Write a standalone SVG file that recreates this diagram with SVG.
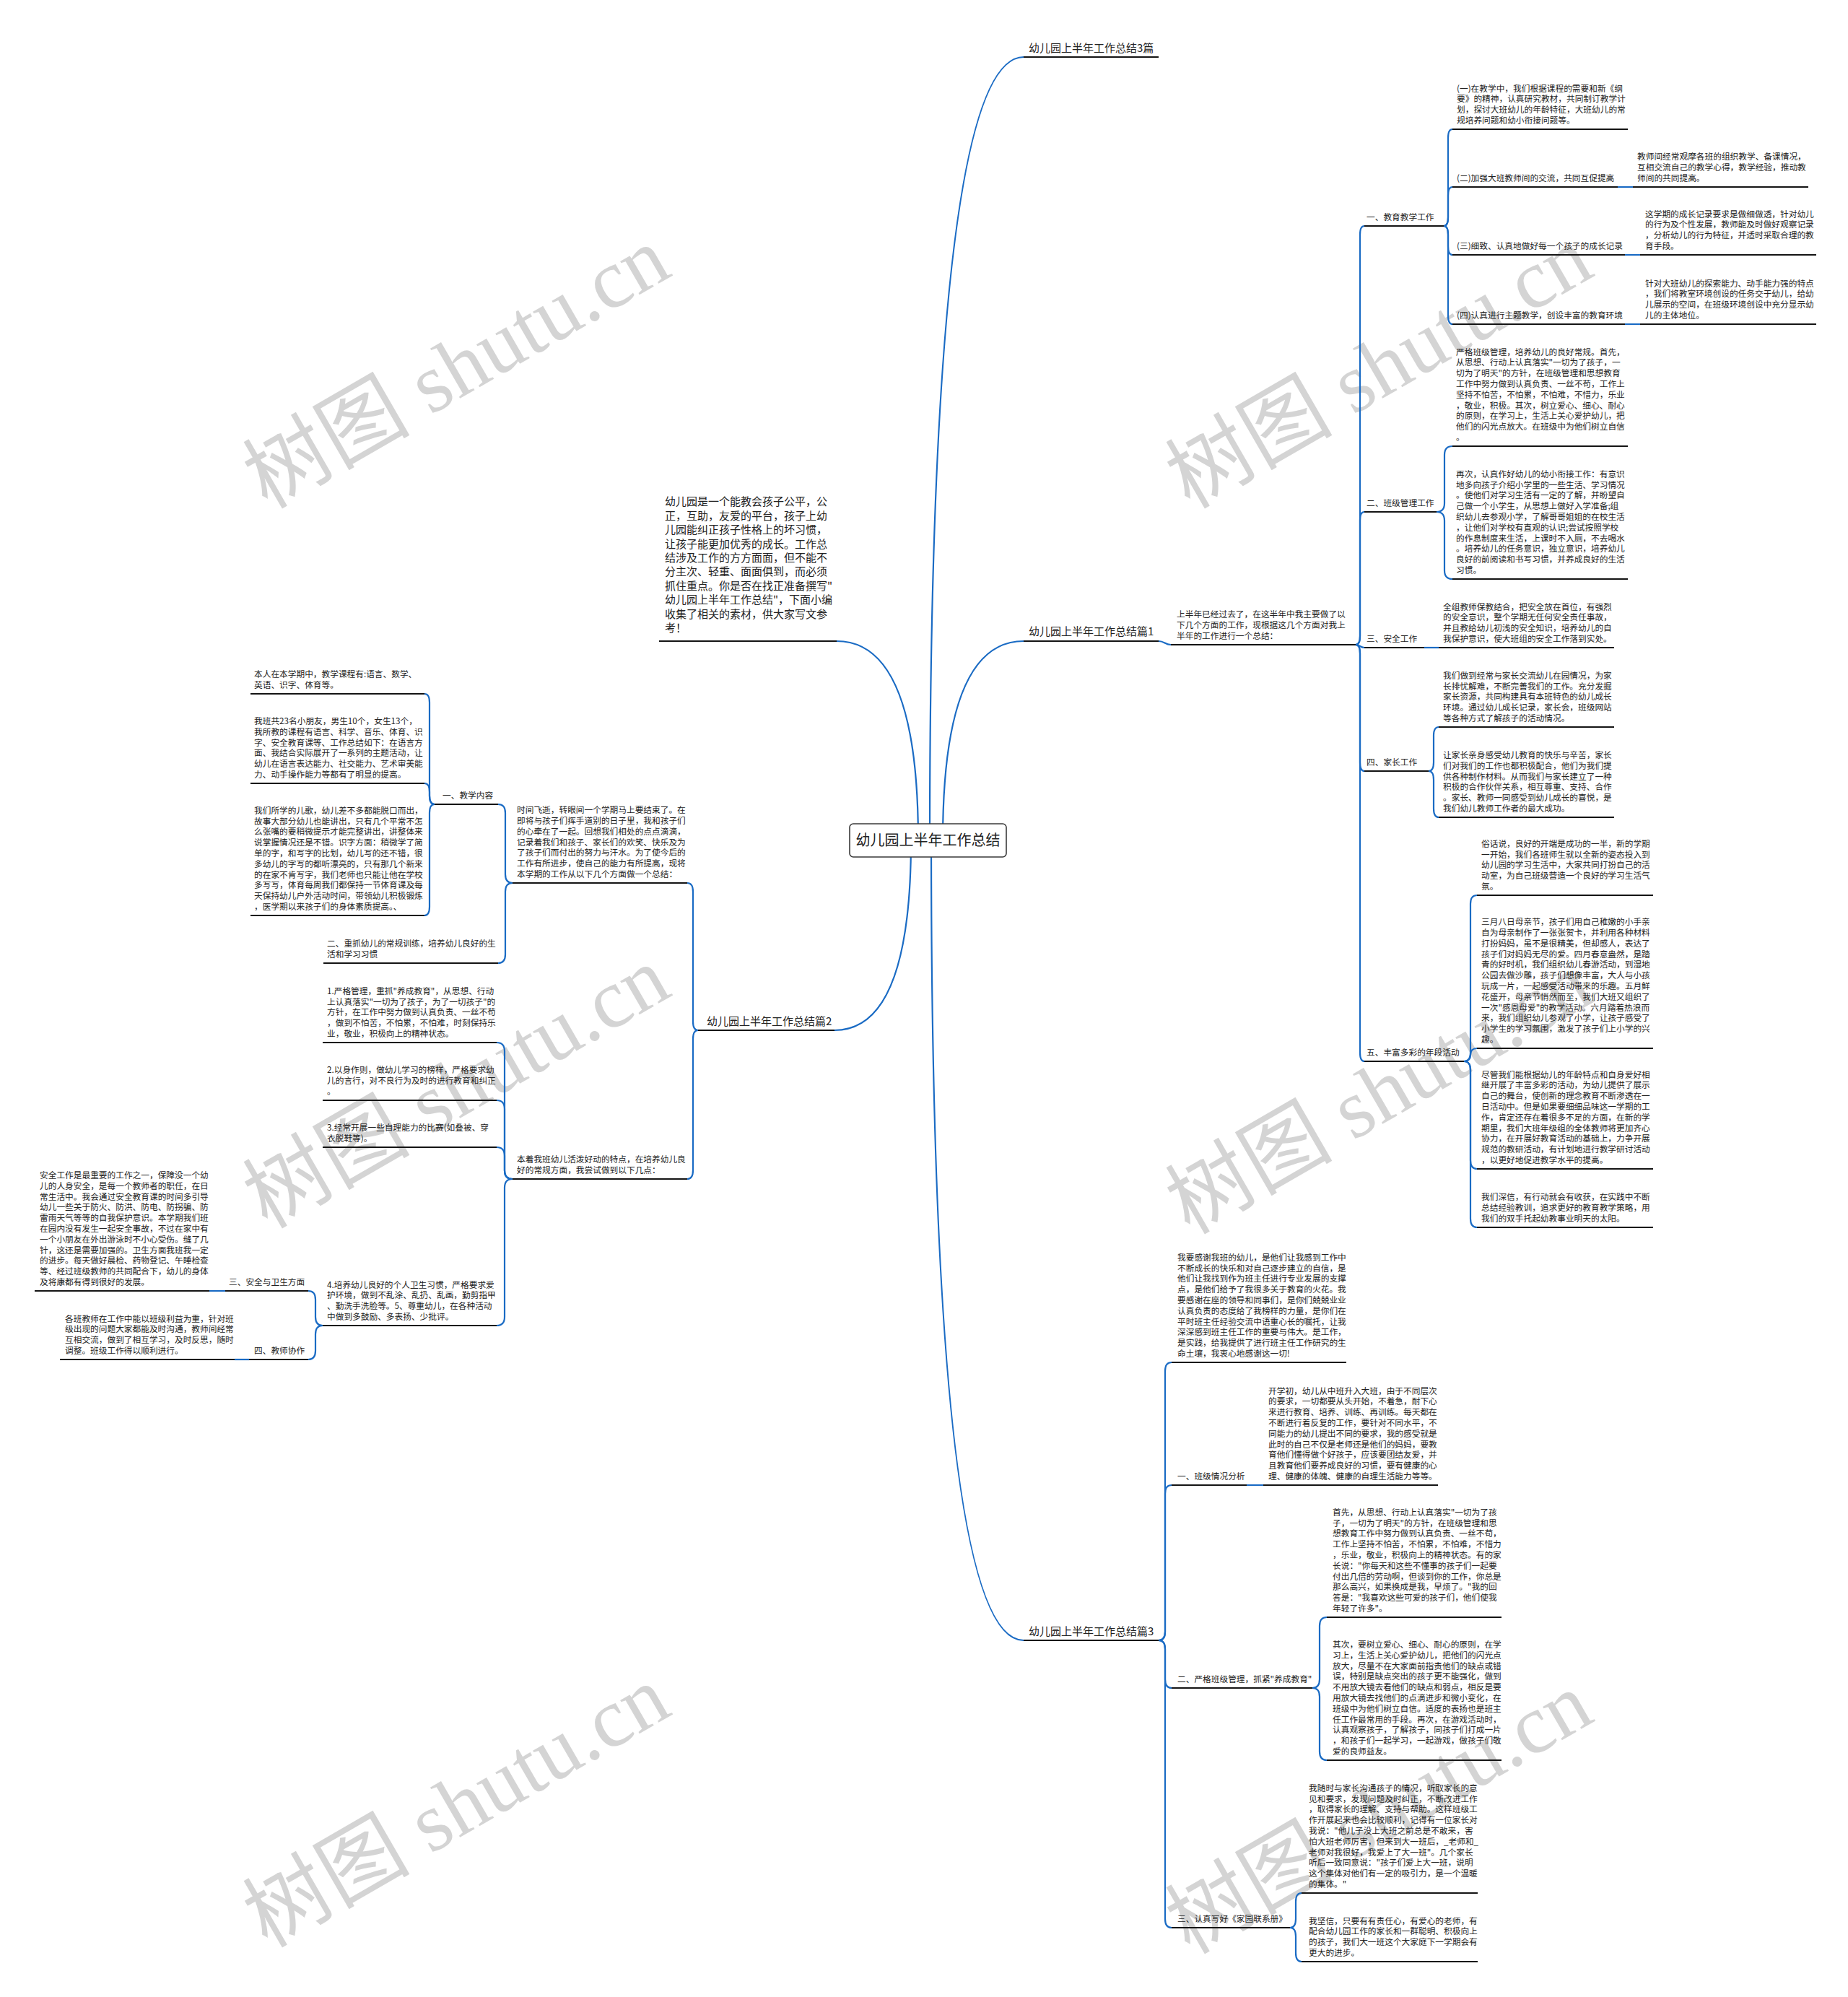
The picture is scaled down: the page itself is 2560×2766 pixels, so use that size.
<svg xmlns="http://www.w3.org/2000/svg" width="2560" height="2766" viewBox="0 0 2560 2766">
<style>
.t{font-family:"Noto Sans CJK SC","Noto Sans",sans-serif;font-size:11.7px;fill:#222}
.m{font-size:15px}
.ul{stroke:#141414;stroke-width:2;fill:none}
.c{fill:none;stroke:#1a6bc4;stroke-width:2.2}
.wm{font-family:"Liberation Serif","Noto Sans CJK SC",serif;font-size:116px;fill:#d4d4d4}
</style>
<rect width="2560" height="2766" fill="#ffffff"/>
<g id="watermarks">
<text class="wm" x="370" y="706" transform="rotate(-30 370 706)">树图 shutu.cn</text>
<text class="wm" x="1648" y="706" transform="rotate(-30 1648 706)">树图 shutu.cn</text>
<text class="wm" x="370" y="1703" transform="rotate(-30 370 1703)">树图 shutu.cn</text>
<text class="wm" x="1648" y="1711" transform="rotate(-30 1648 1711)">树图 shutu.cn</text>
<text class="wm" x="370" y="2699" transform="rotate(-30 370 2699)">树图 shutu.cn</text>
<text class="wm" x="1648" y="2708" transform="rotate(-30 1648 2708)">树图 shutu.cn</text>
</g>
<g id="connectors">
<path class="c" d="M1288,1164 Q1288,79 1418,79"/>
<path class="c" d="M1306,1164 Q1306,888 1418,888"/>
<path class="c" d="M1272,1164 Q1272,888 1159,888"/>
<path class="c" d="M1262,1164 Q1262,1427 1156,1427"/>
<path class="c" d="M1290,1164 Q1290,2272 1418,2272"/>
<path class="c" d="M1605,888 C1613,888 1614,893 1622,893"/>
<path class="c" d="M1878,893 Q1884,893 1884,881 L1884,325 Q1884,313 1890,313"/>
<path class="c" d="M1878,893 Q1884,893 1884,881 L1884,721 Q1884,709 1890,709"/>
<path class="c" d="M1878,893 C1884,893 1884,897 1890,897"/>
<path class="c" d="M1878,893 Q1884,893 1884,905 L1884,1056 Q1884,1068 1890,1068"/>
<path class="c" d="M1878,893 Q1884,893 1884,905 L1884,1458 Q1884,1470 1890,1470"/>
<path class="c" d="M2000,313 Q2006,313 2006,301 L2006,191 Q2006,179 2012,179"/>
<path class="c" d="M2000,313 Q2006,313 2006,301 L2006,271 Q2006,259 2012,259"/>
<path class="c" d="M2000,313 Q2006,313 2006,325 L2006,341 Q2006,353 2012,353"/>
<path class="c" d="M2000,313 Q2006,313 2006,325 L2006,437 Q2006,449 2012,449"/>
<path class="c" d="M2241,259 L2262,259"/>
<path class="c" d="M2251,353 L2272,353"/>
<path class="c" d="M2251,449 L2272,449"/>
<path class="c" d="M1990,709 Q2001,709 2001,697 L2001,630 Q2001,618 2012,618"/>
<path class="c" d="M1990,709 Q2001,709 2001,721 L2001,790 Q2001,802 2012,802"/>
<path class="c" d="M1973,897 L1993,897"/>
<path class="c" d="M1979,1068 Q1986,1068 1986,1056 L1986,1019 Q1986,1007 1993,1007"/>
<path class="c" d="M1979,1068 Q1986,1068 1986,1080 L1986,1120 Q1986,1132 1993,1132"/>
<path class="c" d="M2028,1470 Q2037,1470 2037,1458 L2037,1252 Q2037,1240 2046,1240"/>
<path class="c" d="M2028,1470 Q2037,1470 2037,1461 Q2037,1452 2046,1452"/>
<path class="c" d="M2028,1470 Q2037,1470 2037,1482 L2037,1607 Q2037,1619 2046,1619"/>
<path class="c" d="M2028,1470 Q2037,1470 2037,1482 L2037,1688 Q2037,1700 2046,1700"/>
<path class="c" d="M967,1427 Q960,1427 960,1415 L960,1235 Q960,1223 952,1223"/>
<path class="c" d="M967,1427 Q960,1427 960,1439 L960,1621 Q960,1633 952,1633"/>
<path class="c" d="M710,1223 Q700,1223 700,1211 L700,1126 Q700,1114 690,1114"/>
<path class="c" d="M710,1223 Q700,1223 700,1235 L700,1322 Q700,1334 690,1334"/>
<path class="c" d="M602,1114 Q595,1114 595,1102 L595,973 Q595,961 588,961"/>
<path class="c" d="M602,1114 Q595,1114 595,1102 L595,1097 Q595,1085 588,1085"/>
<path class="c" d="M602,1114 Q595,1114 595,1126 L595,1256 Q595,1268 588,1268"/>
<path class="c" d="M710,1633 Q699,1633 699,1621 L699,1456 Q699,1444 688,1444"/>
<path class="c" d="M710,1633 Q699,1633 699,1621 L699,1536 Q699,1524 688,1524"/>
<path class="c" d="M710,1633 Q699,1633 699,1621 L699,1601 Q699,1589 688,1589"/>
<path class="c" d="M710,1633 Q699,1633 699,1645 L699,1824 Q699,1836 688,1836"/>
<path class="c" d="M447,1836 Q437,1836 437,1824 L437,1800 Q437,1788 427,1788"/>
<path class="c" d="M447,1836 Q437,1836 437,1848 L437,1871 Q437,1883 427,1883"/>
<path class="c" d="M312,1788 L290,1788"/>
<path class="c" d="M345,1883 L325,1883"/>
<path class="c" d="M1605,2272 Q1614,2272 1614,2260 L1614,1899 Q1614,1887 1623,1887"/>
<path class="c" d="M1605,2272 Q1614,2272 1614,2260 L1614,2069 Q1614,2057 1623,2057"/>
<path class="c" d="M1605,2272 Q1614,2272 1614,2284 L1614,2326 Q1614,2338 1623,2338"/>
<path class="c" d="M1605,2272 Q1614,2272 1614,2284 L1614,2658 Q1614,2670 1623,2670"/>
<path class="c" d="M1727,2057 L1750,2057"/>
<path class="c" d="M1818,2338 Q1828,2338 1828,2326 L1828,2252 Q1828,2240 1838,2240"/>
<path class="c" d="M1818,2338 Q1828,2338 1828,2350 L1828,2426 Q1828,2438 1838,2438"/>
<path class="c" d="M1787,2670 Q1795,2670 1795,2658 L1795,2634 Q1795,2622 1803,2622"/>
<path class="c" d="M1787,2670 Q1795,2670 1795,2682 L1795,2705 Q1795,2717 1803,2717"/>
</g>
<g id="root">
<rect x="1177" y="1141" width="217" height="46" rx="5" fill="#ffffff" stroke="#3a3a3a" stroke-width="1.6"/>
<text class="t" x="1285.5" y="1171" text-anchor="middle" style="font-size:20px">幼儿园上半年工作总结</text>
</g>
<g id="n-3pian">
<text class="t m" x="1425" y="72">幼儿园上半年工作总结3篇</text>
<line class="ul" x1="1418" y1="79" x2="1605" y2="79"/>
</g>
<g id="n-intro">
<text class="t m" x="921" y="700.4"><tspan x="921">幼儿园是一个能教会孩子公平，公</tspan><tspan x="921" dy="19.4">正，互助，友爱的平台，孩子上幼</tspan><tspan x="921" dy="19.4">儿园能纠正孩子性格上的坏习惯，</tspan><tspan x="921" dy="19.4">让孩子能更加优秀的成长。工作总</tspan><tspan x="921" dy="19.4">结涉及工作的方方面面，但不能不</tspan><tspan x="921" dy="19.4">分主次、轻重、面面俱到，而必须</tspan><tspan x="921" dy="19.4">抓住重点。你是否在找正准备撰写"</tspan><tspan x="921" dy="19.4">幼儿园上半年工作总结"，下面小编</tspan><tspan x="921" dy="19.4">收集了相关的素材，供大家写文参</tspan><tspan x="921" dy="19.4">考！</tspan></text>
<line class="ul" x1="913" y1="888" x2="1159" y2="888"/>
</g>
<g id="n-pian1">
<text class="t m" x="1425" y="880">幼儿园上半年工作总结篇1</text>
<line class="ul" x1="1418" y1="888" x2="1605" y2="888"/>
</g>
<g id="n-p1">
<text class="t" x="1630" y="855.4"><tspan x="1630">上半年已经过去了，在这半年中我主要做了以</tspan><tspan x="1630" dy="14.8">下几个方面的工作，现根据这几个方面对我上</tspan><tspan x="1630" dy="14.8">半年的工作进行一个总结：</tspan></text>
<line class="ul" x1="1622" y1="893" x2="1878" y2="893"/>
</g>
<g id="n-r1">
<text class="t" x="1893" y="305">一、教育教学工作</text>
<line class="ul" x1="1890" y1="313" x2="2000" y2="313"/>
</g>
<g id="n-r1a">
<text class="t" x="2018" y="126.6"><tspan x="2018">(一)在教学中，我们根据课程的需要和新《纲</tspan><tspan x="2018" dy="14.8">要》的精神，认真研究教材，共同制订教学计</tspan><tspan x="2018" dy="14.8">划，探讨大班幼儿的年龄特征，大班幼儿的常</tspan><tspan x="2018" dy="14.8">规培养问题和幼小衔接问题等。</tspan></text>
<line class="ul" x1="2012" y1="179" x2="2255" y2="179"/>
</g>
<g id="n-r1b">
<text class="t" x="2018" y="251">(二)加强大班教师间的交流，共同互促提高</text>
<line class="ul" x1="2012" y1="259" x2="2241" y2="259"/>
</g>
<g id="n-r1b1">
<text class="t" x="2268" y="221.4"><tspan x="2268">教师间经常观摩各班的组织教学、备课情况，</tspan><tspan x="2268" dy="14.8">互相交流自己的教学心得，教学经验，推动教</tspan><tspan x="2268" dy="14.8">师间的共同提高。</tspan></text>
<line class="ul" x1="2262" y1="259" x2="2505" y2="259"/>
</g>
<g id="n-r1c">
<text class="t" x="2018" y="345">(三)细致、认真地做好每一个孩子的成长记录</text>
<line class="ul" x1="2012" y1="353" x2="2251" y2="353"/>
</g>
<g id="n-r1c1">
<text class="t" x="2279" y="300.6"><tspan x="2279">这学期的成长记录要求是做细做透，针对幼儿</tspan><tspan x="2279" dy="14.8">的行为及个性发展，教师能及时做好观察记录</tspan><tspan x="2279" dy="14.8">，分析幼儿的行为特征，并适时采取合理的教</tspan><tspan x="2279" dy="14.8">育手段。</tspan></text>
<line class="ul" x1="2272" y1="353" x2="2516" y2="353"/>
</g>
<g id="n-r1d">
<text class="t" x="2018" y="441">(四)认真进行主题教学，创设丰富的教育环境</text>
<line class="ul" x1="2012" y1="449" x2="2251" y2="449"/>
</g>
<g id="n-r1d1">
<text class="t" x="2279" y="396.6"><tspan x="2279">针对大班幼儿的探索能力、动手能力强的特点</tspan><tspan x="2279" dy="14.8">，我们将教室环境创设的任务交于幼儿，给幼</tspan><tspan x="2279" dy="14.8">儿展示的空间，在班级环境创设中充分显示幼</tspan><tspan x="2279" dy="14.8">儿的主体地位。</tspan></text>
<line class="ul" x1="2272" y1="449" x2="2516" y2="449"/>
</g>
<g id="n-r2">
<text class="t" x="1893" y="701">二、班级管理工作</text>
<line class="ul" x1="1890" y1="709" x2="1990" y2="709"/>
</g>
<g id="n-r2a">
<text class="t" x="2017" y="491.6"><tspan x="2017">严格班级管理，培养幼儿的良好常规。首先，</tspan><tspan x="2017" dy="14.8">从思想、行动上认真落实"一切为了孩子，一</tspan><tspan x="2017" dy="14.8">切为了明天"的方针，在班级管理和思想教育</tspan><tspan x="2017" dy="14.8">工作中努力做到认真负责、一丝不苟，工作上</tspan><tspan x="2017" dy="14.8">坚持不怕苦，不怕累，不怕难，不惜力，乐业</tspan><tspan x="2017" dy="14.8">，敬业，积极。其次，树立爱心、细心、耐心</tspan><tspan x="2017" dy="14.8">的原则，在学习上，生活上关心爱护幼儿，把</tspan><tspan x="2017" dy="14.8">他们的闪光点放大。在班级中为他们树立自信</tspan><tspan x="2017" dy="14.8">。</tspan></text>
<line class="ul" x1="2012" y1="618" x2="2255" y2="618"/>
</g>
<g id="n-r2b">
<text class="t" x="2017" y="660.8"><tspan x="2017">再次，认真作好幼儿的幼小衔接工作：有意识</tspan><tspan x="2017" dy="14.8">地多向孩子介绍小学里的一些生活、学习情况</tspan><tspan x="2017" dy="14.8">。使他们对学习生活有一定的了解，并盼望自</tspan><tspan x="2017" dy="14.8">己做一个小学生，从思想上做好入学准备;组</tspan><tspan x="2017" dy="14.8">织幼儿去参观小学，了解哥哥姐姐的在校生活</tspan><tspan x="2017" dy="14.8">，让他们对学校有直观的认识;尝试按照学校</tspan><tspan x="2017" dy="14.8">的作息制度来生活，上课时不入厕，不去喝水</tspan><tspan x="2017" dy="14.8">。培养幼儿的任务意识，独立意识，培养幼儿</tspan><tspan x="2017" dy="14.8">良好的前阅读和书写习惯，并养成良好的生活</tspan><tspan x="2017" dy="14.8">习惯。</tspan></text>
<line class="ul" x1="2012" y1="802" x2="2255" y2="802"/>
</g>
<g id="n-r3">
<text class="t" x="1893" y="889">三、安全工作</text>
<line class="ul" x1="1890" y1="897" x2="1973" y2="897"/>
</g>
<g id="n-r3a">
<text class="t" x="1999" y="844.6"><tspan x="1999">全组教师保教结合，把安全放在首位，有强烈</tspan><tspan x="1999" dy="14.8">的安全意识，整个学期无任何安全责任事故，</tspan><tspan x="1999" dy="14.8">并且教给幼儿初浅的安全知识，培养幼儿的自</tspan><tspan x="1999" dy="14.8">我保护意识，使大班组的安全工作落到实处。</tspan></text>
<line class="ul" x1="1993" y1="897" x2="2236" y2="897"/>
</g>
<g id="n-r4">
<text class="t" x="1893" y="1060">四、家长工作</text>
<line class="ul" x1="1890" y1="1068" x2="1979" y2="1068"/>
</g>
<g id="n-r4a">
<text class="t" x="1999" y="939.8"><tspan x="1999">我们做到经常与家长交流幼儿在园情况，为家</tspan><tspan x="1999" dy="14.8">长排忧解难，不断完善我们的工作。充分发掘</tspan><tspan x="1999" dy="14.8">家长资源，共同构建具有本班特色的幼儿成长</tspan><tspan x="1999" dy="14.8">环境。通过幼儿成长记录，家长会，班级网站</tspan><tspan x="1999" dy="14.8">等各种方式了解孩子的活动情况。</tspan></text>
<line class="ul" x1="1993" y1="1007" x2="2236" y2="1007"/>
</g>
<g id="n-r4b">
<text class="t" x="1999" y="1050"><tspan x="1999">让家长亲身感受幼儿教育的快乐与辛苦，家长</tspan><tspan x="1999" dy="14.8">们对我们的工作也都积极配合，他们为我们提</tspan><tspan x="1999" dy="14.8">供各种制作材料。从而我们与家长建立了一种</tspan><tspan x="1999" dy="14.8">积极的合作伙伴关系，相互尊重、支持、合作</tspan><tspan x="1999" dy="14.8">。家长、教师一同感受到幼儿成长的喜悦，是</tspan><tspan x="1999" dy="14.8">我们幼儿教师工作者的最大成功。</tspan></text>
<line class="ul" x1="1993" y1="1132" x2="2236" y2="1132"/>
</g>
<g id="n-r5">
<text class="t" x="1893" y="1462">五、丰富多彩的年段活动</text>
<line class="ul" x1="1890" y1="1470" x2="2028" y2="1470"/>
</g>
<g id="n-r5a">
<text class="t" x="2052" y="1172.8"><tspan x="2052">俗话说，良好的开端是成功的一半，新的学期</tspan><tspan x="2052" dy="14.8">一开始，我们各班师生就以全新的姿态投入到</tspan><tspan x="2052" dy="14.8">幼儿园的学习生活中，大家共同打扮自己的活</tspan><tspan x="2052" dy="14.8">动室，为自己班级营造一个良好的学习生活气</tspan><tspan x="2052" dy="14.8">氛。</tspan></text>
<line class="ul" x1="2046" y1="1240" x2="2290" y2="1240"/>
</g>
<g id="n-r5b">
<text class="t" x="2052" y="1281.2"><tspan x="2052">三月八日母亲节，孩子们用自己稚嫩的小手亲</tspan><tspan x="2052" dy="14.8">自为母亲制作了一张张贺卡，并利用各种材料</tspan><tspan x="2052" dy="14.8">打扮妈妈，虽不是很精美，但却感人，表达了</tspan><tspan x="2052" dy="14.8">孩子们对妈妈无尽的爱。四月春意盎然，是踏</tspan><tspan x="2052" dy="14.8">青的好时机，我们组织幼儿春游活动，到湿地</tspan><tspan x="2052" dy="14.8">公园去做沙雕，孩子们想像丰富，大人与小孩</tspan><tspan x="2052" dy="14.8">玩成一片，一起感受活动带来的乐趣。五月鲜</tspan><tspan x="2052" dy="14.8">花盛开，母亲节悄然而至，我们大班又组织了</tspan><tspan x="2052" dy="14.8">一次"感恩母爱"的教学活动。六月踏着热浪而</tspan><tspan x="2052" dy="14.8">来，我们组织幼儿参观了小学，让孩子感受了</tspan><tspan x="2052" dy="14.8">小学生的学习氛围，激发了孩子们上小学的兴</tspan><tspan x="2052" dy="14.8">趣。</tspan></text>
<line class="ul" x1="2046" y1="1452" x2="2290" y2="1452"/>
</g>
<g id="n-r5c">
<text class="t" x="2052" y="1492.6"><tspan x="2052">尽管我们能根据幼儿的年龄特点和自身爱好相</tspan><tspan x="2052" dy="14.8">继开展了丰富多彩的活动，为幼儿提供了展示</tspan><tspan x="2052" dy="14.8">自己的舞台，使创新的理念教育不断渗透在一</tspan><tspan x="2052" dy="14.8">日活动中。但是如果要细细品味这一学期的工</tspan><tspan x="2052" dy="14.8">作，肯定还存在着很多不足的方面，在新的学</tspan><tspan x="2052" dy="14.8">期里，我们大班年级组的全体教师将更加齐心</tspan><tspan x="2052" dy="14.8">协力，在开展好教育活动的基础上，力争开展</tspan><tspan x="2052" dy="14.8">规范的教研活动，有计划地进行教学研讨活动</tspan><tspan x="2052" dy="14.8">，以更好地促进教学水平的提高。</tspan></text>
<line class="ul" x1="2046" y1="1619" x2="2290" y2="1619"/>
</g>
<g id="n-r5d">
<text class="t" x="2052" y="1662.4"><tspan x="2052">我们深信，有行动就会有收获，在实践中不断</tspan><tspan x="2052" dy="14.8">总结经验教训，追求更好的教育教学策略，用</tspan><tspan x="2052" dy="14.8">我们的双手托起幼教事业明天的太阳。</tspan></text>
<line class="ul" x1="2046" y1="1700" x2="2290" y2="1700"/>
</g>
<g id="n-pian2">
<text class="t m" x="979" y="1420">幼儿园上半年工作总结篇2</text>
<line class="ul" x1="967" y1="1427" x2="1156" y2="1427"/>
</g>
<g id="n-p2a">
<text class="t" x="716" y="1126.2"><tspan x="716">时间飞逝，转眼间一个学期马上要结束了。在</tspan><tspan x="716" dy="14.8">即将与孩子们挥手道别的日子里，我和孩子们</tspan><tspan x="716" dy="14.8">的心牵在了一起。回想我们相处的点点滴滴，</tspan><tspan x="716" dy="14.8">记录着我们和孩子、家长们的欢笑、快乐及为</tspan><tspan x="716" dy="14.8">了孩子们而付出的努力与汗水。为了使今后的</tspan><tspan x="716" dy="14.8">工作有所进步，使自己的能力有所提高，现将</tspan><tspan x="716" dy="14.8">本学期的工作从以下几个方面做一个总结：</tspan></text>
<line class="ul" x1="710" y1="1223" x2="952" y2="1223"/>
</g>
<g id="n-l1">
<text class="t" x="613" y="1106">一、教学内容</text>
<line class="ul" x1="602" y1="1114" x2="690" y2="1114"/>
</g>
<g id="n-l1a">
<text class="t" x="352" y="938.2"><tspan x="352">本人在本学期中，教学课程有:语言、数学、</tspan><tspan x="352" dy="14.8">英语、识字、体育等。</tspan></text>
<line class="ul" x1="347" y1="961" x2="588" y2="961"/>
</g>
<g id="n-l1b">
<text class="t" x="352" y="1003"><tspan x="352">我班共23名小朋友，男生10个，女生13个，</tspan><tspan x="352" dy="14.8">我所教的课程有语言、科学、音乐、体育、识</tspan><tspan x="352" dy="14.8">字、安全教育课等、工作总结如下：在语言方</tspan><tspan x="352" dy="14.8">面、我结合实际展开了一系列的主题活动，让</tspan><tspan x="352" dy="14.8">幼儿在语言表达能力、社交能力、艺术审美能</tspan><tspan x="352" dy="14.8">力、动手操作能力等都有了明显的提高。</tspan></text>
<line class="ul" x1="347" y1="1085" x2="588" y2="1085"/>
</g>
<g id="n-l1c">
<text class="t" x="352" y="1126.8"><tspan x="352">我们所学的儿歌，幼儿差不多都能脱口而出，</tspan><tspan x="352" dy="14.8">故事大部分幼儿也能讲出，只有几个平常不怎</tspan><tspan x="352" dy="14.8">么张嘴的要稍微提示才能完整讲出，讲整体来</tspan><tspan x="352" dy="14.8">说掌握情况还是不错。识字方面：稍微学了简</tspan><tspan x="352" dy="14.8">单的字，和写字的比划，幼儿写的还不错，很</tspan><tspan x="352" dy="14.8">多幼儿的字写的都听漂亮的，只有那几个新来</tspan><tspan x="352" dy="14.8">的在家不肯写字，我们老师也只能让他在学校</tspan><tspan x="352" dy="14.8">多写写，体育每周我们都保持一节体育课及每</tspan><tspan x="352" dy="14.8">天保持幼儿户外活动时间，带领幼儿积极锻炼</tspan><tspan x="352" dy="14.8">，医学期以来孩子们的身体素质提高。、</tspan></text>
<line class="ul" x1="347" y1="1268" x2="588" y2="1268"/>
</g>
<g id="n-l2">
<text class="t" x="453" y="1311.2"><tspan x="453">二、重抓幼儿的常规训练，培养幼儿良好的生</tspan><tspan x="453" dy="14.8">活和学习习惯</tspan></text>
<line class="ul" x1="448" y1="1334" x2="690" y2="1334"/>
</g>
<g id="n-p2b">
<text class="t" x="716" y="1610.2"><tspan x="716">本着我班幼儿活泼好动的特点，在培养幼儿良</tspan><tspan x="716" dy="14.8">好的常规方面，我尝试做到以下几点：</tspan></text>
<line class="ul" x1="710" y1="1633" x2="952" y2="1633"/>
</g>
<g id="n-b1">
<text class="t" x="453" y="1376.8"><tspan x="453">1.严格管理，重抓"养成教育"，从思想、行动</tspan><tspan x="453" dy="14.8">上认真落实"一切为了孩子，为了一切孩子"的</tspan><tspan x="453" dy="14.8">方针，在工作中努力做到认真负责、一丝不苟</tspan><tspan x="453" dy="14.8">，做到不怕苦，不怕累，不怕难，时刻保持乐</tspan><tspan x="453" dy="14.8">业，敬业，积极向上的精神状态。</tspan></text>
<line class="ul" x1="447" y1="1444" x2="688" y2="1444"/>
</g>
<g id="n-b2">
<text class="t" x="453" y="1486.4"><tspan x="453">2.以身作则，做幼儿学习的榜样，严格要求幼</tspan><tspan x="453" dy="14.8">儿的言行，对不良行为及时的进行教育和纠正</tspan><tspan x="453" dy="14.8">。</tspan></text>
<line class="ul" x1="447" y1="1524" x2="688" y2="1524"/>
</g>
<g id="n-b3">
<text class="t" x="453" y="1566.2"><tspan x="453">3.经常开展一些自理能力的比赛(如叠被、穿</tspan><tspan x="453" dy="14.8">衣脱鞋等)。</tspan></text>
<line class="ul" x1="447" y1="1589" x2="688" y2="1589"/>
</g>
<g id="n-b4">
<text class="t" x="453" y="1783.6"><tspan x="453">4.培养幼儿良好的个人卫生习惯，严格要求爱</tspan><tspan x="453" dy="14.8">护环境，做到不乱涂、乱扔、乱画，勤剪指甲</tspan><tspan x="453" dy="14.8">、勤洗手洗脸等。5、尊重幼儿，在各种活动</tspan><tspan x="453" dy="14.8">中做到多鼓励、多表扬、少批评。</tspan></text>
<line class="ul" x1="447" y1="1836" x2="688" y2="1836"/>
</g>
<g id="n-s1">
<text class="t" x="317" y="1780">三、安全与卫生方面</text>
<line class="ul" x1="312" y1="1788" x2="427" y2="1788"/>
</g>
<g id="n-s1a">
<text class="t" x="55" y="1632"><tspan x="55">安全工作是最重要的工作之一，保障没一个幼</tspan><tspan x="55" dy="14.8">儿的人身安全，是每一个教师者的职任，在日</tspan><tspan x="55" dy="14.8">常生活中。我会通过安全教育课的时间多引导</tspan><tspan x="55" dy="14.8">幼儿一些关于防火、防洪、防电、防拐骗、防</tspan><tspan x="55" dy="14.8">雷雨天气等等的自我保护意识。本学期我们班</tspan><tspan x="55" dy="14.8">在园内没有发生一起安全事故，不过在家中有</tspan><tspan x="55" dy="14.8">一个小朋友在外出游泳时不小心受伤。缝了几</tspan><tspan x="55" dy="14.8">针，这还是需要加强的。卫生方面我班我一定</tspan><tspan x="55" dy="14.8">的进步。每天做好晨检、药物登记、午睡检查</tspan><tspan x="55" dy="14.8">等、经过班级教师的共同配合下，幼儿的身体</tspan><tspan x="55" dy="14.8">及将康都有得到很好的发展。</tspan></text>
<line class="ul" x1="48" y1="1788" x2="290" y2="1788"/>
</g>
<g id="n-s2">
<text class="t" x="352" y="1875">四、教师协作</text>
<line class="ul" x1="345" y1="1883" x2="427" y2="1883"/>
</g>
<g id="n-s2a">
<text class="t" x="90" y="1830.6"><tspan x="90">各班教师在工作中能以班级利益为重，针对班</tspan><tspan x="90" dy="14.8">级出现的问题大家都能及时沟通，教师间经常</tspan><tspan x="90" dy="14.8">互相交流，做到了相互学习，及时反思，随时</tspan><tspan x="90" dy="14.8">调整。班级工作得以顺利进行。</tspan></text>
<line class="ul" x1="83" y1="1883" x2="325" y2="1883"/>
</g>
<g id="n-pian3">
<text class="t m" x="1425" y="2265">幼儿园上半年工作总结篇3</text>
<line class="ul" x1="1418" y1="2272" x2="1605" y2="2272"/>
</g>
<g id="n-p3a">
<text class="t" x="1631" y="1745.8"><tspan x="1631">我要感谢我班的幼儿，是他们让我感到工作中</tspan><tspan x="1631" dy="14.8">不断成长的快乐和对自己逐步建立的自信，是</tspan><tspan x="1631" dy="14.8">他们让我找到作为班主任进行专业发展的支撑</tspan><tspan x="1631" dy="14.8">点，是他们给予了我很多关于教育的火花。我</tspan><tspan x="1631" dy="14.8">要感谢在座的领导和同事们，是你们兢兢业业</tspan><tspan x="1631" dy="14.8">认真负责的态度给了我榜样的力量，是你们在</tspan><tspan x="1631" dy="14.8">平时班主任经验交流中语重心长的嘱托，让我</tspan><tspan x="1631" dy="14.8">深深感到班主任工作的重要与伟大。是工作，</tspan><tspan x="1631" dy="14.8">是实践，给我提供了进行班主任工作研究的生</tspan><tspan x="1631" dy="14.8">命土壤，我衷心地感谢这一切!</tspan></text>
<line class="ul" x1="1623" y1="1887" x2="1865" y2="1887"/>
</g>
<g id="n-t1">
<text class="t" x="1631" y="2049">一、班级情况分析</text>
<line class="ul" x1="1623" y1="2057" x2="1727" y2="2057"/>
</g>
<g id="n-t1a">
<text class="t" x="1757" y="1930.6"><tspan x="1757">开学初，幼儿从中班升入大班，由于不同层次</tspan><tspan x="1757" dy="14.8">的要求，一切都要从头开始，不着急，耐下心</tspan><tspan x="1757" dy="14.8">来进行教育、培养、训练、再训练。每天都在</tspan><tspan x="1757" dy="14.8">不断进行着反复的工作，要针对不同水平，不</tspan><tspan x="1757" dy="14.8">同能力的幼儿提出不同的要求，我的感受就是</tspan><tspan x="1757" dy="14.8">此时的自己不仅是老师还是他们的妈妈，要教</tspan><tspan x="1757" dy="14.8">育他们懂得做个好孩子，应该要团结友爱，并</tspan><tspan x="1757" dy="14.8">且教育他们要养成良好的习惯，要有健康的心</tspan><tspan x="1757" dy="14.8">理、健康的体魄、健康的自理生活能力等等。</tspan></text>
<line class="ul" x1="1750" y1="2057" x2="1992" y2="2057"/>
</g>
<g id="n-t2">
<text class="t" x="1631" y="2330">二、严格班级管理，抓紧"养成教育"</text>
<line class="ul" x1="1623" y1="2338" x2="1818" y2="2338"/>
</g>
<g id="n-t2a">
<text class="t" x="1846" y="2098.8"><tspan x="1846">首先，从思想、行动上认真落实"一切为了孩</tspan><tspan x="1846" dy="14.8">子，一切为了明天"的方针，在班级管理和思</tspan><tspan x="1846" dy="14.8">想教育工作中努力做到认真负责、一丝不苟，</tspan><tspan x="1846" dy="14.8">工作上坚持不怕苦，不怕累，不怕难，不惜力</tspan><tspan x="1846" dy="14.8">，乐业，敬业，积极向上的精神状态。有的家</tspan><tspan x="1846" dy="14.8">长说："你每天和这些不懂事的孩子们一起要</tspan><tspan x="1846" dy="14.8">付出几倍的劳动啊，但谈到你的工作，你总是</tspan><tspan x="1846" dy="14.8">那么高兴，如果换成是我，早烦了。"我的回</tspan><tspan x="1846" dy="14.8">答是："我喜欢这些可爱的孩子们，他们使我</tspan><tspan x="1846" dy="14.8">年轻了许多"。</tspan></text>
<line class="ul" x1="1838" y1="2240" x2="2080" y2="2240"/>
</g>
<g id="n-t2b">
<text class="t" x="1846" y="2282"><tspan x="1846">其次，要树立爱心、细心、耐心的原则，在学</tspan><tspan x="1846" dy="14.8">习上，生活上关心爱护幼儿，把他们的闪光点</tspan><tspan x="1846" dy="14.8">放大，尽量不在大家面前指责他们的缺点或错</tspan><tspan x="1846" dy="14.8">误，特别是缺点突出的孩子更不能强化，做到</tspan><tspan x="1846" dy="14.8">不用放大镜去看他们的缺点和弱点，相反是要</tspan><tspan x="1846" dy="14.8">用放大镜去找他们的点滴进步和微小变化，在</tspan><tspan x="1846" dy="14.8">班级中为他们树立自信。适度的表扬也是班主</tspan><tspan x="1846" dy="14.8">任工作最常用的手段。再次，在游戏活动时，</tspan><tspan x="1846" dy="14.8">认真观察孩子，了解孩子，同孩子们打成一片</tspan><tspan x="1846" dy="14.8">，和孩子们一起学习，一起游戏，做孩子们敬</tspan><tspan x="1846" dy="14.8">爱的良师益友。</tspan></text>
<line class="ul" x1="1838" y1="2438" x2="2080" y2="2438"/>
</g>
<g id="n-t3">
<text class="t" x="1631" y="2662">三、认真写好《家园联系册》</text>
<line class="ul" x1="1623" y1="2670" x2="1787" y2="2670"/>
</g>
<g id="n-t3a">
<text class="t" x="1813" y="2480.8"><tspan x="1813">我随时与家长沟通孩子的情况，听取家长的意</tspan><tspan x="1813" dy="14.8">见和要求，发现问题及时纠正，不断改进工作</tspan><tspan x="1813" dy="14.8">，取得家长的理解、支持与帮助。这样班级工</tspan><tspan x="1813" dy="14.8">作开展起来也会比较顺利，记得有一位家长对</tspan><tspan x="1813" dy="14.8">我说："他儿子没上大班之前总是不敢来，害</tspan><tspan x="1813" dy="14.8">怕大班老师厉害，但来到大一班后，_老师和_</tspan><tspan x="1813" dy="14.8">老师对我很好，我爱上了大一班"。几个家长</tspan><tspan x="1813" dy="14.8">听后一致同意说："孩子们爱上大一班，说明</tspan><tspan x="1813" dy="14.8">这个集体对他们有一定的吸引力，是一个温暖</tspan><tspan x="1813" dy="14.8">的集体。"</tspan></text>
<line class="ul" x1="1803" y1="2622" x2="2047" y2="2622"/>
</g>
<g id="n-t3b">
<text class="t" x="1813" y="2664.6"><tspan x="1813">我坚信，只要有有责任心，有爱心的老师，有</tspan><tspan x="1813" dy="14.8">配合幼儿园工作的家长和一群聪明、积极向上</tspan><tspan x="1813" dy="14.8">的孩子，我们大一班这个大家庭下一学期会有</tspan><tspan x="1813" dy="14.8">更大的进步。</tspan></text>
<line class="ul" x1="1803" y1="2717" x2="2047" y2="2717"/>
</g>
</svg>
